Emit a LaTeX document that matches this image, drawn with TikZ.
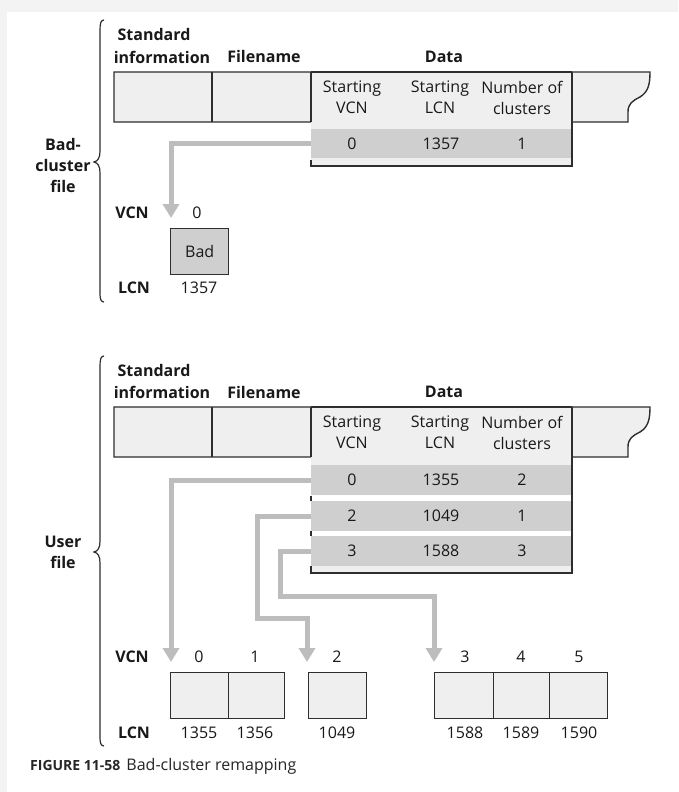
\documentclass[tikz,border=0pt]{standalone}
\usepackage{fontspec}
\setmainfont{Open Sans}
\usetikzlibrary{arrows.meta,calc}
\definecolor{edge}{HTML}{2E2E2E}
\definecolor{cellfill}{HTML}{EFEFEF}
\definecolor{rowfill}{HTML}{CFCFCF}
\definecolor{arrowgray}{HTML}{BDBDBD}
\definecolor{pagegray}{HTML}{F3F3F3}
\tikzset{
  lbl/.style={font=\fontsize{16}{21}\selectfont, inner sep=0pt, align=center, text=black!90},
  blbl/.style={font=\fontsize{16}{21}\selectfont\bfseries, inner sep=0pt, align=center, text=black!90},
  outline/.style={draw=edge, line width=1.4pt},
  cell/.style={outline, fill=cellfill},
  rowband/.style={fill=rowfill, inner sep=0pt, minimum width=261pt, anchor=west},
  clbox/.style={cell, inner sep=0pt, minimum height=46pt, anchor=north west},
  remap/.style={draw=arrowgray, line width=5pt, line join=miter, -{Triangle[width=16pt,length=14pt]}},
  brace/.style={draw=edge, line width=1.2pt},
}
\begin{document}
\begin{tikzpicture}[x=1pt,y=-1pt]
\useasboundingbox (0,0) rectangle (678,792);
\fill[white] (0,0) rectangle (678,792);
\fill[pagegray] (0,0) rectangle (678,12);
\fill[pagegray] (0,0) rectangle (7,792);

% ================= TOP: bad-cluster file =================
\path[brace] (104,20) .. controls (101,20) and (100,23) .. (100,30) -- (100,151)
  .. controls (100,158) and (98,161) .. (94,162) .. controls (98,163) and (100,166) .. (100,173)
  -- (100,294) .. controls (100,299) and (101,302) .. (104,302);
\node[blbl] (tside) at (63,165) {Bad-\\cluster\\file};

\node[blbl] (tstd) at (154,35) {Standard};
\node[blbl] (tinfo) at (162,57) {information};
\node[blbl] (tfn) at (264,57) {Filename};
\node[blbl] (tdata) at (444,57) {Data};

\path[cell] (114,72) -- (650,72) .. controls (650,85) and (648,92) .. (640,97)
  .. controls (632,101) and (628,104) .. (628,112) -- (628,122) -- (114,122) -- cycle;
\draw[outline] (212,72) -- (212,122);

\fill[cellfill] (311,72) rectangle (572,166);
\node[rowband, minimum height=29pt] (trow) at (311,143.5) {};
\draw[outline] (311,72) -- (311,122);
\draw[outline] (572,72) -- (572,166) -- (311,166) -- (311,160);
\draw[outline] (311,72) -- (572,72);

\node[lbl] (th1) at (352,97.5) {Starting\\VCN};
\node[lbl] (th2) at (440,97.5) {Starting\\LCN};
\node[lbl] (th3) at (522,97.5) {Number of\\clusters};
\node[lbl] (tv) at (352,144) {0};
\node[lbl] (tl) at (441,144) {1357};
\node[lbl] (tn) at (522,144) {1};

\node[clbox, fill=rowfill, minimum width=58pt] (bad) at (170,228) {};
\node[lbl] (badtxt) at (bad.center) {Bad};
\coordinate (ttip) at ($(bad.north west)+(1,-10)$);
\draw[remap] (trow.west) -| (ttip);

\node[blbl] (tvcnl) at (132,213) {VCN};
\node[lbl] (tvcn0) at (197,213) {0};
\node[blbl] (tlcnl) at (134,288) {LCN};
\node[lbl] (tlcn0) at (199,288) {1357};

% ================= BOTTOM: user file =================
\path[brace] (104,356) .. controls (101,356) and (100,359) .. (100,366) -- (100,541)
  .. controls (100,548) and (98,551) .. (94,552) .. controls (98,553) and (100,556) .. (100,563)
  -- (100,738) .. controls (100,743) and (101,746) .. (104,746);
\node[blbl] (uside) at (63,552) {User\\file};

\node[blbl] (ustd) at (154,370) {Standard};
\node[blbl] (uinfo) at (162,392) {information};
\node[blbl] (ufn) at (264,392) {Filename};
\node[blbl] (udata) at (444,392) {Data};

\path[cell] (114,407) -- (650,407) .. controls (650,420) and (648,427) .. (640,432)
  .. controls (632,436) and (628,439) .. (628,447) -- (628,457) -- (114,457) -- cycle;
\draw[outline] (212,407) -- (212,457);

\fill[cellfill] (311,407) rectangle (572,573);
\node[rowband, minimum height=30pt] (urow0) at (311,480) {};
\node[rowband, minimum height=30pt] (urow1) at (311,516) {};
\node[rowband, minimum height=30pt] (urow2) at (311,551) {};
\fill[white] (311,495) rectangle (572,501);
\fill[white] (311,531) rectangle (572,536);

\coordinate (utip0) at (171,662);
\coordinate (ubend1) at (257,618);
\coordinate (utip2) at (307,662);
\coordinate (ubend2) at (280,596);
\coordinate (utip3) at (434,662);
\draw[remap] (urow0.west) -| (utip0);
\draw[remap] (urow1.west) -| (ubend1) -| (utip2);
\draw[remap] (urow2.west) -| (ubend2) -| (utip3);

\draw[outline] (311,407) -- (311,457);
\draw[outline] (311,496) -- (311,501);
\draw[outline] (311,531) -- (311,536);
\draw[outline] (572,407) -- (572,573) -- (311,573) -- (311,566);
\draw[outline] (311,407) -- (572,407);

\node[lbl] (uh1) at (352,432.5) {Starting\\VCN};
\node[lbl] (uh2) at (440,432.5) {Starting\\LCN};
\node[lbl] (uh3) at (522,432.5) {Number of\\clusters};
\node[lbl] (uv0) at (352,480) {0};
\node[lbl] (ul0) at (441,480) {1355};
\node[lbl] (un0) at (522,480) {2};
\node[lbl] (uv1) at (352,516) {2};
\node[lbl] (ul1) at (441,516) {1049};
\node[lbl] (un1) at (522,516) {1};
\node[lbl] (uv2) at (352,551) {3};
\node[lbl] (ul2) at (441,551) {1588};
\node[lbl] (un2) at (522,551) {3};

\node[clbox, minimum width=58pt] (c0) at (170,672) {};
\node[clbox, minimum width=56pt] (c1) at (228,672) {};
\node[clbox, minimum width=58pt] (c2) at (308,672) {};
\node[clbox, minimum width=59pt] (c3) at (434,672) {};
\node[clbox, minimum width=56pt] (c4) at (493,672) {};
\node[clbox, minimum width=58pt] (c5) at (549,672) {};

\node[blbl] (uvcnl) at (132,657) {VCN};
\node[lbl] (uvc0) at (199,657) {0};
\node[lbl] (uvc1) at (255,657) {1};
\node[lbl] (uvc2) at (337,657) {2};
\node[lbl] (uvc3) at (465,657) {3};
\node[lbl] (uvc4) at (521,657) {4};
\node[lbl] (uvc5) at (579,657) {5};

\node[blbl] (ulcnl) at (134,733) {LCN};
\node[lbl] (ulc0) at (199,733) {1355};
\node[lbl] (ulc1) at (255,733) {1356};
\node[lbl] (ulc2) at (337,733) {1049};
\node[lbl] (ulc3) at (465,733) {1588};
\node[lbl] (ulc4) at (521,733) {1589};
\node[lbl] (ulc5) at (579,733) {1590};

% ================= caption =================
\node[anchor=west, inner sep=0pt, text=black!85] (cap) at (30,766)
  {{\fontsize{14}{16}\selectfont\bfseries FIGURE 11-58}\hspace{6pt}{\fontsize{16}{18}\selectfont Bad-cluster remapping}};
\end{tikzpicture}
\end{document}
